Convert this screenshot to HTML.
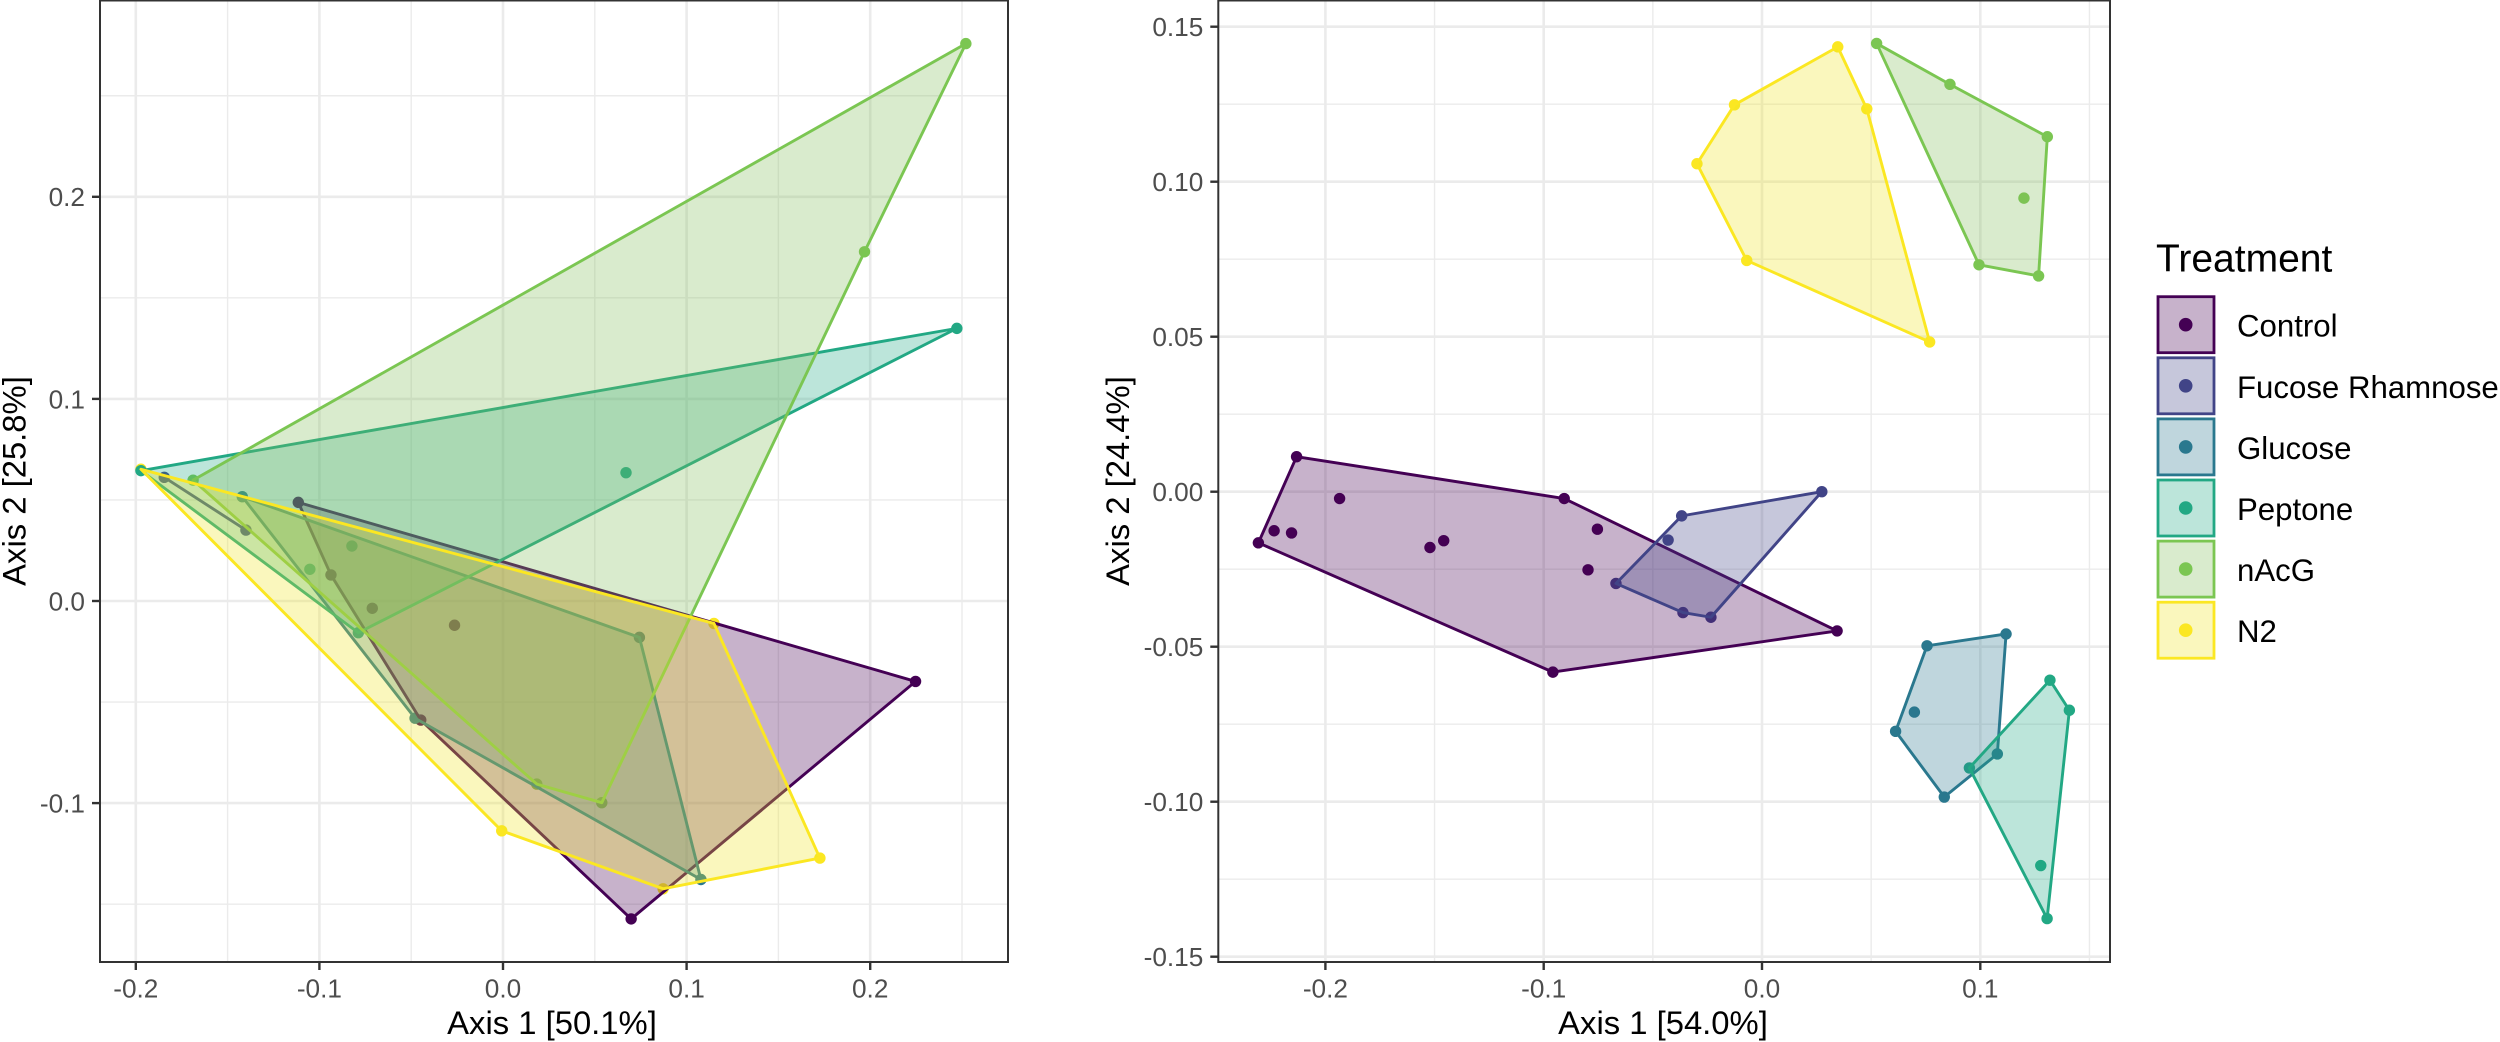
<!DOCTYPE html>
<html lang="en">
<head>
<meta charset="utf-8">
<title>Ordination plots by treatment</title>
<style>
html,body{margin:0;padding:0;background:#fff;}
body{width:2500px;height:1042px;overflow:hidden;}
svg{display:block;font-family:"Liberation Sans",Arial,sans-serif;}
.tick-label{font-size:26.2px;fill:#4d4d4d;}
.axis-title{font-size:32.8px;fill:#000;}
.legend-title{font-size:39px;fill:#000;}
.legend-label{font-size:31.2px;fill:#000;}
</style>
</head>
<body>
<svg id="figure" xmlns="http://www.w3.org/2000/svg" width="2500" height="1042" viewBox="0 0 2500 1042">
  <g id="left-panel"></g>
  <g id="right-panel"></g>

  <text class="axis-title" x="552" y="1034" text-anchor="middle">Axis 1 [50.1%]</text>
  <text class="axis-title" transform="translate(25.5 481) rotate(-90)" text-anchor="middle">Axis 2 [25.8%]</text>
  <text class="axis-title" x="1663" y="1034" text-anchor="middle">Axis 1 [54.0%]</text>
  <text class="axis-title" transform="translate(1129 481) rotate(-90)" text-anchor="middle">Axis 2 [24.4%]</text>

  <g id="legend">
    <text class="legend-title" x="2156" y="271.7">Treatment</text>
    <g>
      <rect x="2158" y="296.7" width="56" height="56" fill="#440154" fill-opacity="0.3" stroke="#440154" stroke-width="2.8"/>
      <circle cx="2185.7" cy="324.7" r="6.8" fill="#440154"/>
      <text class="legend-label" x="2237" y="336.7">Control</text>
    </g>
    <g>
      <rect x="2158" y="357.8" width="56" height="56" fill="#414487" fill-opacity="0.3" stroke="#414487" stroke-width="2.8"/>
      <circle cx="2185.7" cy="385.8" r="6.8" fill="#414487"/>
      <text class="legend-label" x="2237" y="397.8">Fucose Rhamnose</text>
    </g>
    <g>
      <rect x="2158" y="418.9" width="56" height="56" fill="#2A788E" fill-opacity="0.3" stroke="#2A788E" stroke-width="2.8"/>
      <circle cx="2185.7" cy="446.9" r="6.8" fill="#2A788E"/>
      <text class="legend-label" x="2237" y="458.9">Glucose</text>
    </g>
    <g>
      <rect x="2158" y="480" width="56" height="56" fill="#22A884" fill-opacity="0.3" stroke="#22A884" stroke-width="2.8"/>
      <circle cx="2185.7" cy="508" r="6.8" fill="#22A884"/>
      <text class="legend-label" x="2237" y="520">Peptone</text>
    </g>
    <g>
      <rect x="2158" y="541.1" width="56" height="56" fill="#80BC58" fill-opacity="0.3" stroke="#7BC652" stroke-width="2.8"/>
      <circle cx="2185.7" cy="569.1" r="6.8" fill="#7BC652"/>
      <text class="legend-label" x="2237" y="581.1">nAcG</text>
    </g>
    <g>
      <rect x="2158" y="602.2" width="56" height="56" fill="#EEE426" fill-opacity="0.3" stroke="#FBE722" stroke-width="2.8"/>
      <circle cx="2185.7" cy="630.2" r="6.8" fill="#FBE722"/>
      <text class="legend-label" x="2237" y="642.2">N2</text>
    </g>
  </g>
</svg>

<script>
// ---- Shared categories ----
const treatments = ["Control", "Fucose Rhamnose", "Glucose", "Peptone", "nAcG", "N2"];
const treatmentColors = ["#440154", "#414487", "#2A788E", "#22A884", "#7BC652", "#FBE722"];
const treatmentFills = ["#440154", "#414487", "#2A788E", "#22A884", "#80BC58", "#EEE426"];

// ---- Left ordination: axis ticks ----
const leftXMajor = [-0.2, -0.1, 0.0, 0.1, 0.2];
const leftXMinor = [-0.15, -0.05, 0.05, 0.15, 0.25];
const leftYMajor = [-0.1, 0.0, 0.1, 0.2];
const leftYMinor = [-0.15, -0.05, 0.05, 0.15, 0.25];
const leftXLabels = ["-0.2", "-0.1", "0.0", "0.1", "0.2"];
const leftYLabels = ["-0.1", "0.0", "0.1", "0.2"];

// ---- Left ordination: hull vertices and interior samples [axis1, axis2] ----
const leftControlHull = [[-0.1115, 0.0488], [0.2247, -0.0398], [0.0698, -0.1573], [-0.0448, -0.0589], [-0.0937, 0.0129]];
const leftControlInner = [[-0.0712, -0.0036], [-0.0264, -0.012]];
const leftFucoseHull = [[-0.1845, 0.0612], [-0.14, 0.0351]];
const leftFucoseInner = [];
const leftGlucoseHull = [[-0.142, 0.0516], [0.0743, -0.018], [0.1078, -0.1378], [-0.0479, -0.058]];
const leftGlucoseInner = [];
const leftPeptoneHull = [[-0.1972, 0.0645], [0.2472, 0.1349], [-0.0788, -0.0157]];
const leftPeptoneInner = [[0.067, 0.0635], [-0.0823, 0.0272], [-0.1052, 0.0157]];
const leftNacgHull = [[-0.1688, 0.0598], [0.2521, 0.2758], [0.1969, 0.1728], [0.0538, -0.0998], [0.0184, -0.0906]];
const leftNacgInner = [];
const leftN2Hull = [[-0.1972, 0.0652], [0.1149, -0.0111], [0.1726, -0.1272], [0.0872, -0.1424], [-0.0007, -0.1137]];
const leftN2Inner = [];

// ---- Right ordination: axis ticks ----
const rightXMajor = [-0.2, -0.1, 0.0, 0.1];
const rightXMinor = [-0.15, -0.05, 0.05, 0.15];
const rightYMajor = [-0.15, -0.1, -0.05, 0.0, 0.05, 0.1, 0.15];
const rightYMinor = [-0.125, -0.075, -0.025, 0.025, 0.075, 0.125];
const rightXLabels = ["-0.2", "-0.1", "0.0", "0.1"];
const rightYLabels = ["-0.15", "-0.10", "-0.05", "0.00", "0.05", "0.10", "0.15"];

// ---- Right ordination: hull vertices and interior samples [axis1, axis2] ----
const rightControlHull = [[-0.2132, 0.0113], [-0.0906, -0.0022], [0.0344, -0.0449], [-0.0958, -0.0582], [-0.2307, -0.0165]];
const rightControlInner = [[-0.2235, -0.0126], [-0.2155, -0.0133], [-0.1935, -0.0022], [-0.1521, -0.018], [-0.1458, -0.0158], [-0.0754, -0.0121], [-0.0797, -0.0252]];
const rightFucoseHull = [[0.0274, 0.0], [-0.0234, -0.0405], [-0.0362, -0.039], [-0.0669, -0.0296], [-0.0368, -0.0078]];
const rightFucoseInner = [[-0.043, -0.0156]];
const rightGlucoseHull = [[0.0756, -0.0497], [0.1118, -0.0459], [0.1078, -0.0846], [0.0835, -0.0985], [0.0612, -0.0773]];
const rightGlucoseInner = [[0.0698, -0.0711]];
const rightPeptoneHull = [[0.1319, -0.0608], [0.1408, -0.0705], [0.1306, -0.1377], [0.095, -0.0891]];
const rightPeptoneInner = [[0.1277, -0.1206]];
const rightNacgHull = [[0.0525, 0.1446], [0.0861, 0.1314], [0.1307, 0.1145], [0.1267, 0.0696], [0.0994, 0.0732]];
const rightNacgInner = [[0.12, 0.0947]];
const rightN2Hull = [[0.0347, 0.1435], [0.048, 0.1235], [0.0768, 0.0483], [-0.007, 0.0746], [-0.0298, 0.1058], [-0.0126, 0.1248]];
const rightN2Inner = [];

// ---- Axis functions ----
const leftXAxis = function (v) { return 503 + 1836 * v; };
const leftYAxis = function (v) { return 601 - 2021 * v; };
const rightXAxis = function (v) { return 1762 + 2183 * v; };
const rightYAxis = function (v) { return 491.7 - 3100 * v; };

const SVG_NS = "http://www.w3.org/2000/svg";
function slug(s) { return s.toLowerCase().replace(/\s+/g, "-"); }
function make(tag, attrs, parent) {
  const el = document.createElementNS(SVG_NS, tag);
  Object.keys(attrs).forEach(function (k) { el.setAttribute(k, attrs[k]); });
  parent.appendChild(el);
  return el;
}

function drawPanel(cfg) {
  const g = document.getElementById(cfg.id);
  const p = cfg.prefix;

  // panel background grid
  cfg.xMinor.forEach(function (v) {
    const el = make("line", { x1: cfg.x(v), x2: cfg.x(v), y1: cfg.top, y2: cfg.bottom, stroke: "#ebebeb", "stroke-width": 1.4 }, g);
    
    
  });
  cfg.yMinor.forEach(function (v) {
    const el = make("line", { x1: cfg.left, x2: cfg.right, y1: cfg.y(v), y2: cfg.y(v), stroke: "#ebebeb", "stroke-width": 1.4 }, g);
    
    
  });
  cfg.xMajor.forEach(function (v) {
    const el = make("line", { x1: cfg.x(v), x2: cfg.x(v), y1: cfg.top, y2: cfg.bottom, stroke: "#ebebeb", "stroke-width": 2.6 }, g);
    
    
  });
  cfg.yMajor.forEach(function (v) {
    const el = make("line", { x1: cfg.left, x2: cfg.right, y1: cfg.y(v), y2: cfg.y(v), stroke: "#ebebeb", "stroke-width": 2.6 }, g);
    
    
  });

  // sample points sit beneath the hulls
  cfg.pointOrder.forEach(function (i) {
    cfg.hulls[i].concat(cfg.inners[i]).forEach(function (pt) {
      const c = make("circle", { cx: cfg.x(pt[0]), cy: cfg.y(pt[1]), r: 5.7, fill: treatmentColors[i] }, g);
      
      
    });
  });

  // hull polygons
  treatments.forEach(function (t, i) {
    const pts = cfg.hulls[i].map(function (pt) { return cfg.x(pt[0]).toFixed(2) + "," + cfg.y(pt[1]).toFixed(2); }).join(" ");
    const poly = make("polygon", { points: pts, fill: treatmentFills[i], "fill-opacity": 0.3, stroke: treatmentColors[i], "stroke-width": 2.9, "stroke-linejoin": "round" }, g);
    
    
  });

  // panel border
  const border = make("rect", { x: cfg.left, y: cfg.top, width: cfg.right - cfg.left, height: cfg.bottom - cfg.top, fill: "none", stroke: "#333333", "stroke-width": 2 }, g);
  
  

  // ticks and tick labels
  cfg.xMajor.forEach(function (v, i) {
    const tick = make("line", { x1: cfg.x(v), x2: cfg.x(v), y1: cfg.bottom, y2: cfg.bottom + 8, stroke: "#333333", "stroke-width": 2.4 }, g);
    
    
    const label = make("text", { x: cfg.x(v), y: 997.3, "text-anchor": "middle", class: "tick-label" }, g);
    
    
    label.textContent = cfg.xLabels[i];
  });
  cfg.yMajor.forEach(function (v, i) {
    const tick = make("line", { x1: cfg.left - 8, x2: cfg.left, y1: cfg.y(v), y2: cfg.y(v), stroke: "#333333", "stroke-width": 2.4 }, g);
    
    
    const label = make("text", { x: cfg.left - 15, y: cfg.y(v) + 9.4, "text-anchor": "end", class: "tick-label" }, g);
    
    
    label.textContent = cfg.yLabels[i];
  });
}

drawPanel({
  id: "left-panel", prefix: "left",
  left: 100, right: 1008, top: 0.5, bottom: 962,
  x: leftXAxis, y: leftYAxis,
  xMajor: leftXMajor, xMinor: leftXMinor, yMajor: leftYMajor, yMinor: leftYMinor,
  xLabels: leftXLabels, yLabels: leftYLabels,
  hulls: [leftControlHull, leftFucoseHull, leftGlucoseHull, leftPeptoneHull, leftNacgHull, leftN2Hull],
  inners: [leftControlInner, leftFucoseInner, leftGlucoseInner, leftPeptoneInner, leftNacgInner, leftN2Inner],
  pointOrder: [5, 0, 1, 2, 3, 4]
});

drawPanel({
  id: "right-panel", prefix: "right",
  left: 1218.3, right: 2110, top: 0.5, bottom: 962,
  x: rightXAxis, y: rightYAxis,
  xMajor: rightXMajor, xMinor: rightXMinor, yMajor: rightYMajor, yMinor: rightYMinor,
  xLabels: rightXLabels, yLabels: rightYLabels,
  hulls: [rightControlHull, rightFucoseHull, rightGlucoseHull, rightPeptoneHull, rightNacgHull, rightN2Hull],
  inners: [rightControlInner, rightFucoseInner, rightGlucoseInner, rightPeptoneInner, rightNacgInner, rightN2Inner],
  pointOrder: [0, 1, 2, 3, 4, 5]
});
</script>
</body>
</html>
